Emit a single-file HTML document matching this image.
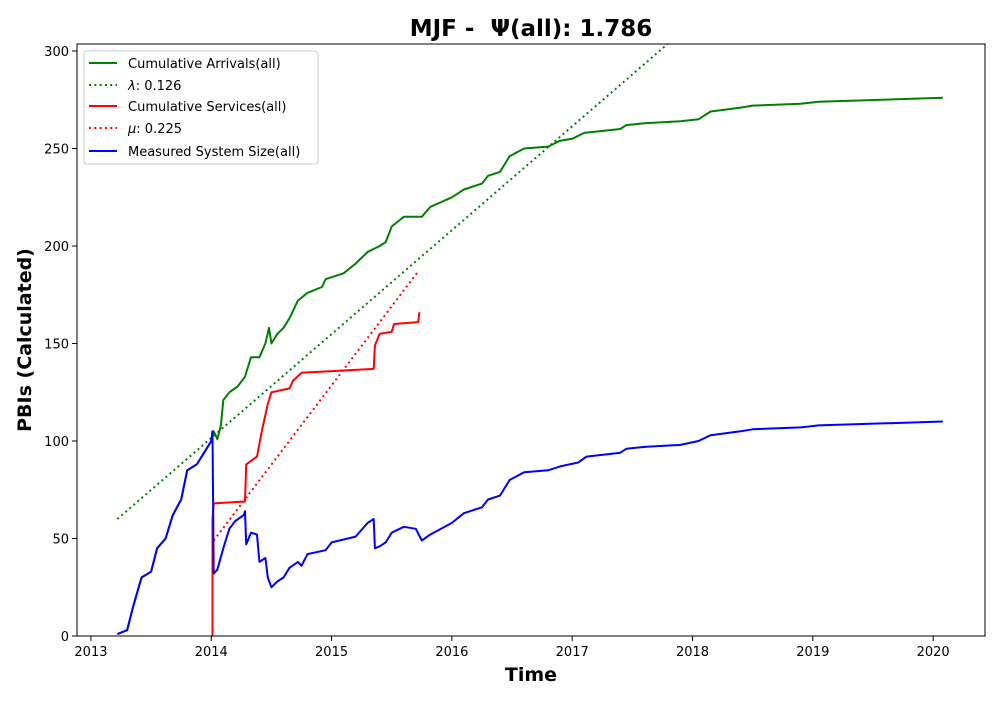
<!DOCTYPE html>
<html><head><meta charset="utf-8"><style>
body{margin:0;background:#fff;font-family:"Liberation Sans","DejaVu Sans",sans-serif}
</style></head><body>
<svg id="chart" width="1000" height="700" xmlns="http://www.w3.org/2000/svg" font-family="DejaVu Sans, Liberation Sans, sans-serif"></svg>
<script>
const arrX=[2013.22,2013.3,2013.35,2013.42,2013.5,2013.55,2013.62,2013.68,2013.75,2013.8,2013.88,2013.95,2014.0,2014.02,2014.05,2014.08,2014.1,2014.15,2014.22,2014.28,2014.33,2014.4,2014.45,2014.48,2014.5,2014.55,2014.6,2014.65,2014.72,2014.8,2014.92,2014.95,2015.1,2015.2,2015.3,2015.4,2015.45,2015.5,2015.6,2015.75,2015.82,2016.0,2016.1,2016.25,2016.3,2016.4,2016.48,2016.6,2016.8,2016.9,2017.0,2017.1,2017.4,2017.45,2017.6,2017.9,2018.05,2018.15,2018.4,2018.5,2018.9,2019.05,2020.08];
const arrY=[1,3,15,30,33,45,50,62,70,85,88,95,100,105,101,108,121,125,128,133,143,143,150,158,150,155,158,163,172,176,179,183,186,191,197,200,202,210,215,215,220,225,229,232,236,238,246,250,251,254,255,258,260,262,263,264,265,269,271,272,273,274,276];
const svcX=[2014.01,2014.01,2014.02,2014.28,2014.29,2014.38,2014.42,2014.47,2014.5,2014.65,2014.68,2014.75,2015.35,2015.36,2015.4,2015.5,2015.52,2015.72,2015.73];
const svcY=[0,60,68,69,88,92,105,119,125,127,131,135,137,149,155,156,160,161,166];
const sysX=[2013.22,2013.3,2013.35,2013.42,2013.5,2013.55,2013.62,2013.68,2013.75,2013.8,2013.88,2013.95,2014.0,2014.01,2014.02,2014.05,2014.1,2014.15,2014.2,2014.27,2014.28,2014.29,2014.33,2014.38,2014.4,2014.45,2014.47,2014.5,2014.55,2014.6,2014.65,2014.72,2014.75,2014.8,2014.95,2015.0,2015.2,2015.3,2015.35,2015.36,2015.4,2015.45,2015.5,2015.6,2015.7,2015.75,2015.82,2016.0,2016.1,2016.25,2016.3,2016.4,2016.48,2016.6,2016.8,2016.9,2017.05,2017.12,2017.4,2017.45,2017.6,2017.9,2018.05,2018.15,2018.4,2018.5,2018.9,2019.05,2020.08];
const sysY=[1,3,15,30,33,45,50,62,70,85,88,95,100,105,32,34,45,55,59,62,64,47,53,52,38,40,30,25,28,30,35,38,36,42,44,48,51,58,60,45,46,48,53,56,55,49,52,58,63,66,70,72,80,84,85,87,89,92,94,96,97,98,100,103,105,106,107,108,110];
const lamX=[2013.22,2017.8];const lamY=[60,304];
const muX=[2014.02,2015.72];const muY=[49,187];
const xTicks=[2013,2014,2015,2016,2017,2018,2019,2020];
const yTicks=[0,50,100,150,200,250,300];

const L=77,R=985,T=44,B=636,x0=2012.884,x1=2020.431,y0=0,y1=303.6;
const sx=v=>L+(v-x0)/(x1-x0)*(R-L), sy=v=>B-(v-y0)/(y1-y0)*(B-T);
const svg=document.getElementById('chart'),NS='http://www.w3.org/2000/svg';
function mk(t,a,p){const e=document.createElementNS(NS,t);for(const k in a)e.setAttribute(k,a[k]);(p||svg).appendChild(e);return e;}
const defs=mk('defs',{});const cp=mk('clipPath',{id:'c'},defs);mk('rect',{x:L,y:T,width:R-L,height:B-T},cp);
const plot=mk('g',{'clip-path':'url(#c)'});
function line(xs,ys,color,dash,name){const d=xs.map((v,i)=>(i?'L':'M')+sx(v).toFixed(1)+','+sy(ys[i]).toFixed(1)).join('');
const p=mk('path',{d:d,fill:'none',stroke:color,'stroke-width':2,'stroke-dasharray':dash||'none','stroke-linejoin':'round'},plot);

}
line(arrX,arrY,'green',null,'cumulative-arrivals-line');
line(lamX,lamY,'green','2 3.3','lambda-line');
line(svcX,svcY,'red',null,'cumulative-services-line');
line(muX,muY,'red','2 3.3','mu-line');
line(sysX,sysY,'blue',null,'system-size-line');
const fr=mk('rect',{x:L,y:T,width:R-L,height:B-T,fill:'none',stroke:'#000','stroke-width':1});

xTicks.forEach(t=>{const x=sx(t);mk('line',{x1:x,x2:x,y1:B,y2:B+5,stroke:'#000'});
const tx=mk('text',{x:x,y:B+20,'font-size':13,'text-anchor':'middle'});tx.textContent=t;
});
yTicks.forEach(t=>{const y=sy(t);mk('line',{x1:L-5,x2:L,y1:y,y2:y,stroke:'#000'});
const tx=mk('text',{x:L-8,y:y+5,'font-size':13,'text-anchor':'end'});tx.textContent=t;
});
</script>
<svg width="1000" height="700" style="position:absolute;left:0;top:0" font-family="DejaVu Sans, Liberation Sans, sans-serif">
<text x="531" y="36" font-size="23" font-weight="bold" text-anchor="middle" xml:space="preserve">MJF -  Ψ(all): 1.786</text>
<text x="531" y="681" font-size="19" font-weight="bold" text-anchor="middle">Time</text>
<text transform="translate(31,340) rotate(-90)" font-size="19" font-weight="bold" text-anchor="middle">PBIs (Calculated)</text>
<g>
<rect x="84" y="51" width="234" height="113" rx="3" fill="#fff" fill-opacity="0.8" stroke="#ccc"/>
<line x1="89" x2="117" y1="63" y2="63" stroke="green" stroke-width="2"/>
<text x="128" y="68" font-size="13">Cumulative Arrivals(all)</text>
<line x1="89" x2="117" y1="85" y2="85" stroke="green" stroke-width="2" stroke-dasharray="2 3.3"/>
<text x="128" y="90" font-size="13"><tspan font-style="italic">λ</tspan>: 0.126</text>
<line x1="89" x2="117" y1="106" y2="106" stroke="red" stroke-width="2"/>
<text x="128" y="111" font-size="13">Cumulative Services(all)</text>
<line x1="89" x2="117" y1="128" y2="128" stroke="red" stroke-width="2" stroke-dasharray="2 3.3"/>
<text x="128" y="133" font-size="13"><tspan font-style="italic">μ</tspan>: 0.225</text>
<line x1="89" x2="117" y1="151" y2="151" stroke="blue" stroke-width="2"/>
<text x="128" y="156" font-size="13">Measured System Size(all)</text>
</g>
</svg>
</body></html>
